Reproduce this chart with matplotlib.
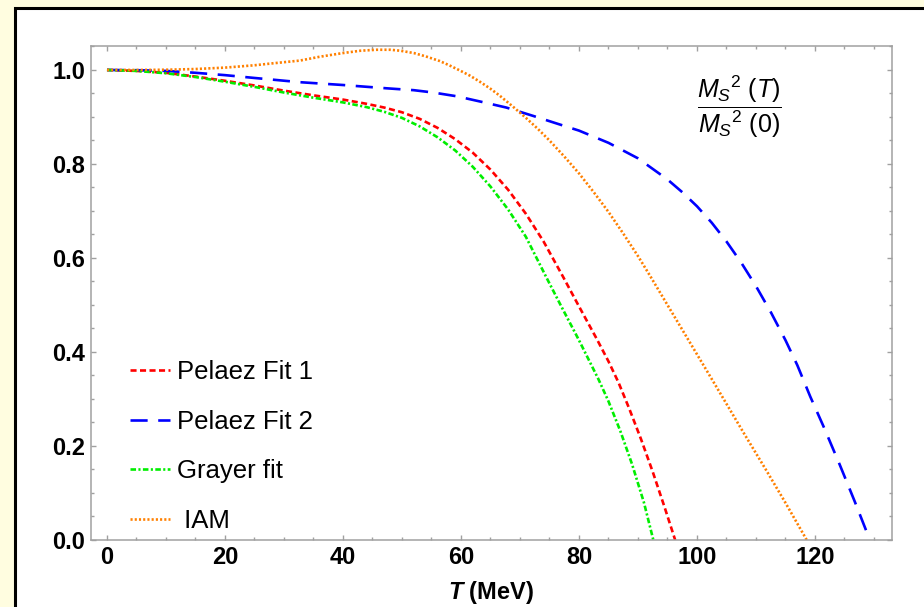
import matplotlib
matplotlib.use("Agg")
import matplotlib.pyplot as plt
from matplotlib.patches import Rectangle
from matplotlib.ticker import MultipleLocator

# ---- data ----
T_fit1 = [0, 5, 10, 15, 20, 25, 30, 35, 40, 44, 47, 50, 53, 56, 59, 62, 65, 68, 71, 74,
          77.3, 80, 83, 85, 86.7, 88.5, 90.5, 92.5, 94.5, 96.3]
v_fit1 = [1.0, 0.998, 0.994, 0.986, 0.977, 0.967, 0.956, 0.946, 0.937, 0.928, 0.920,
          0.910, 0.896, 0.877, 0.853, 0.824, 0.788, 0.745, 0.694, 0.635, 0.560, 0.497,
          0.428, 0.380, 0.335, 0.280, 0.215, 0.145, 0.070, 0.0]

T_fit2 = [0, 5, 10, 15, 20, 25, 32.7, 40, 47.4, 52, 55.3, 59.3, 63.2, 67.7, 72.3, 76,
          80, 85, 90, 95, 97.5, 100, 102.5, 105, 107.5, 110, 112.5, 115, 117, 119.2,
          121.5, 124.2, 126.7, 129.3]
v_fit2 = [1.0, 0.9995, 0.998, 0.994, 0.989, 0.983, 0.974, 0.968, 0.961, 0.957, 0.952,
          0.944, 0.933, 0.920, 0.902, 0.887, 0.871, 0.845, 0.812, 0.767, 0.740, 0.710,
          0.675, 0.635, 0.590, 0.540, 0.485, 0.425, 0.372, 0.305, 0.240, 0.160, 0.083,
          0.0]

T_grayer = [0, 5, 10, 15, 20, 25, 30, 35, 40, 44, 47, 50, 53, 56, 59, 62, 65, 68, 71,
            74.5, 77, 80, 83.3, 85, 87, 89, 91, 92.6]
v_grayer = [1.0, 0.998, 0.993, 0.985, 0.975, 0.964, 0.952, 0.941, 0.931, 0.921, 0.911,
            0.898, 0.880, 0.857, 0.829, 0.794, 0.752, 0.703, 0.645, 0.558, 0.497, 0.425,
            0.342, 0.295, 0.232, 0.161, 0.080, 0.0]

T_iam = [0, 5, 10, 15, 20, 25, 28, 32.7, 36, 40, 43, 45.7, 48, 49.7, 52, 54, 56.4, 58,
         59.8, 61.5, 63.2, 65, 66.6, 68.9, 71.1, 73, 75, 77.5, 80, 82.5, 85, 87.5, 90,
         92, 95, 97.5, 100, 102.5, 104.7, 108, 111.8, 115, 118.6]
v_iam = [1.0, 1.0, 1.0005, 1.002, 1.005, 1.010, 1.014, 1.020, 1.028, 1.036, 1.041, 1.043,
         1.043, 1.041, 1.036, 1.029, 1.019, 1.010, 0.999, 0.988, 0.975, 0.960, 0.945,
         0.921, 0.897, 0.875, 0.850, 0.816, 0.780, 0.740, 0.698, 0.652, 0.604, 0.563,
         0.500, 0.4475, 0.395, 0.3425, 0.296, 0.226, 0.147, 0.079, 0.0]

labels = ["Pelaez Fit 1", "Pelaez Fit 2", "Grayer fit", " IAM"]
xticks = [0, 20, 40, 60, 80, 100, 120]
yticks = [0.0, 0.2, 0.4, 0.6, 0.8, 1.0]

plt.rcParams['font.family'] = ['Liberation Sans', 'DejaVu Sans']
plt.rcParams['mathtext.fontset'] = 'custom'
plt.rcParams['mathtext.it'] = 'Liberation Sans:italic'
plt.rcParams['mathtext.rm'] = 'Liberation Sans'
plt.rcParams['mathtext.bf'] = 'Liberation Sans:bold'
plt.rcParams['mathtext.bfit'] = 'Liberation Sans:bold:italic'

fig = plt.figure(figsize=(9.24, 6.07), dpi=100)
fig.patch.set_facecolor('#FFFDE0')

# white panel with black border on left / top
panel = Rectangle((15 / 924, -0.1), 1.2, (607 - 8) / 607 + 0.1, transform=fig.transFigure,
                  facecolor='white', edgecolor='black', linewidth=2.2, zorder=-10)
fig.add_artist(panel)

ax = fig.add_axes([90.7 / 924, 1 - 540 / 607, (891.7 - 90.7) / 924, (540 - 46) / 607])
ax.set_zorder(1)
ax.set_facecolor('white')

lw = 1.9
ax.plot(T_fit1, v_fit1, color='#FF0000', lw=lw, dashes=(2.3, 1.3), label=labels[0])
ax.plot(T_fit2, v_fit2, color='#0000FF', lw=lw, dashes=(6.5, 4.0), label=labels[1])
ax.plot(T_grayer, v_grayer, color='#00EE00', lw=lw, dashes=(2.1, 0.9, 0.8, 0.9), label=labels[2])
ax.plot(T_iam, v_iam, color='#FF8000', lw=lw, dashes=(0.8, 0.8), dash_capstyle='butt',
        label=labels[3])

ax.set_xlim(-2.76, 133.0)
ax.set_ylim(0, 1.051)
ax.set_xticks(xticks)
ax.set_yticks(yticks)
ax.set_xticklabels([str(t) for t in xticks])
ax.set_yticklabels([f"{t:.1f}" for t in yticks])
ax.xaxis.set_minor_locator(MultipleLocator(5))
ax.yaxis.set_minor_locator(MultipleLocator(0.05))

frame_col = '#A0A0A0'
for s in ax.spines.values():
    s.set_color(frame_col)
    s.set_linewidth(1.1)
ax.tick_params(which='both', direction='in', top=True, right=True, color=frame_col,
               width=1.0)
ax.tick_params(which='major', length=3.5, labelsize=17, pad=4)
ax.tick_params(which='minor', length=2)
for lab in ax.get_xticklabels() + ax.get_yticklabels():
    lab.set_fontweight('bold')

ax.set_xlabel(r'$\mathbfit{T}$ (MeV)', fontsize=17, fontweight='bold', labelpad=7.5)

ax.text(0.81, 0.878, r'$\dfrac{{M_S}^{2}\ (T)}{{M_S}^{2}\ (0)}$', transform=ax.transAxes,
        fontsize=18, ha='center', va='center')

leg = ax.legend(loc='lower left', bbox_to_anchor=(0.049, 0.014), frameon=False,
                fontsize=18.5, handlelength=1.55, handletextpad=0.3, labelspacing=1.0,
                borderpad=0, borderaxespad=0)

fig.savefig('out.png', dpi=100, facecolor=fig.get_facecolor())
